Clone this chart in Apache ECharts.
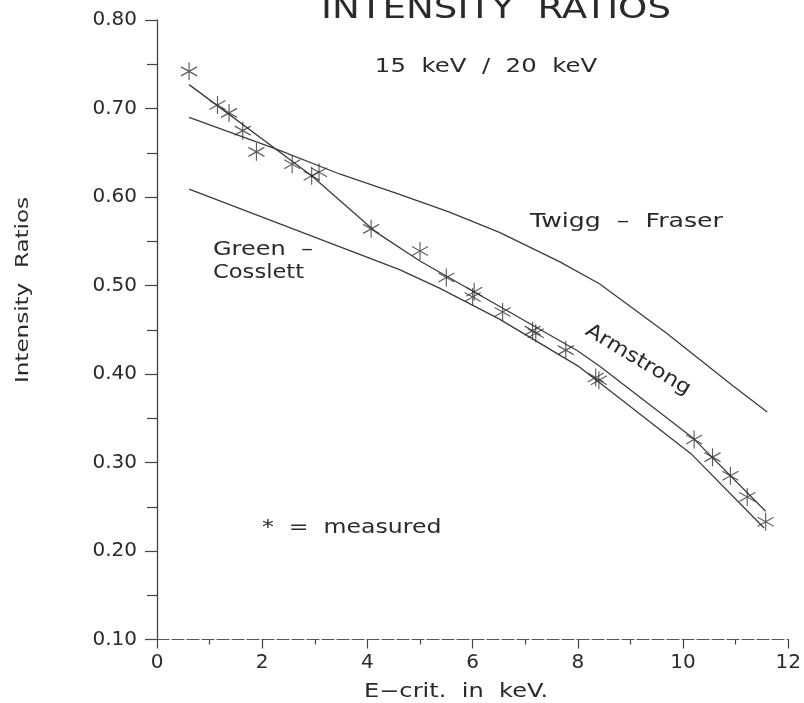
<!DOCTYPE html>
<html>
<head>
<meta charset="utf-8">
<script src="https://cdn.jsdelivr.net/npm/echarts@6/dist/echarts.min.js"></script>
<style>
html,body{margin:0;padding:0;background:#fff;}
#chart{width:804px;height:703px;}
</style>
</head>
<body>
<div id="chart"></div>
<script>
// Measured points (asterisks)
var measuredX = [0.61, 1.15, 1.37, 1.63, 1.89, 2.57, 2.94, 3.08, 4.07, 5.00, 5.50, 6.03, 6.00, 6.57, 7.14, 7.20, 7.77, 8.34, 8.40, 10.21, 10.56, 10.90, 11.22, 11.57];
var measuredY = [0.742, 0.704, 0.695, 0.675, 0.651, 0.637, 0.624, 0.628, 0.564, 0.539, 0.509, 0.493, 0.487, 0.470, 0.449, 0.446, 0.427, 0.396, 0.393, 0.326, 0.306, 0.285, 0.261, 0.233];

// Armstrong curve
var armstrongX = [0.61, 2.94, 4.17, 4.99, 8.00, 8.41, 10.20, 11.57];
var armstrongY = [0.727, 0.624, 0.560, 0.528, 0.426, 0.409, 0.327, 0.245];

// Twigg - Fraser curve
var twiggX = [0.61, 2.27, 3.47, 4.61, 5.56, 6.51, 7.65, 8.41, 9.67, 10.94, 11.60];
var twiggY = [0.690, 0.654, 0.626, 0.603, 0.583, 0.560, 0.527, 0.502, 0.447, 0.387, 0.357];

// Green - Cosslett curve
var greenX = [0.61, 4.61, 5.37, 6.51, 8.03, 10.15, 11.54];
var greenY = [0.609, 0.518, 0.497, 0.462, 0.408, 0.310, 0.226];

// Tick labels
var xTickLabels = ['0', '2', '4', '6', '8', '10', '12'];
var yTickLabels = ['0.10', '0.20', '0.30', '0.40', '0.50', '0.60', '0.70', '0.80'];

function pairs(xs, ys) { return xs.map(function (x, i) { return [x, ys[i]]; }); }

var FONT = '"DejaVu Sans", sans-serif';
var INK = '#2a2a2a';
var LINE = '#3c3c3c';

var chart = echarts.init(document.getElementById('chart'), null, {renderer: 'canvas'});
var lineStyle = {color: LINE, width: 1.3};

function label(text, x, y, size, sx, align, rot) {
  return {
    type: 'text', x: x, y: y, scaleX: sx, rotation: rot || 0,
    style: {text: text, font: size + 'px ' + FONT, fill: INK, textAlign: align, textVerticalAlign: 'middle'}
  };
}

var option = {
  backgroundColor: '#ffffff',
  animation: false,
  grid: {left: 157, right: 15, top: 20, bottom: 63.5, containLabel: false},
  xAxis: {
    type: 'value', min: 0, max: 12, interval: 2,
    axisLine: {show: true, onZero: false, lineStyle: {color: '#555', width: 1.2, type: [12, 3]}},
    axisTick: {show: true, inside: false, length: 9, lineStyle: {color: '#444', width: 1.2}},
    minorTick: {show: true, splitNumber: 2, length: 5, lineStyle: {color: '#444', width: 1.2}},
    splitLine: {show: false},
    axisLabel: {
      margin: 13, color: INK, fontSize: 20, fontFamily: FONT,
      formatter: function (v) { var i = Math.round(v / 2); return xTickLabels[i] !== undefined ? xTickLabels[i] : ''; }
    }
  },
  yAxis: {
    type: 'value', min: 0.1, max: 0.8, interval: 0.1,
    axisLine: {show: true, onZero: false, lineStyle: {color: '#444', width: 1.3}},
    axisTick: {show: true, inside: false, length: 12, lineStyle: {color: '#444', width: 1.2}},
    minorTick: {show: true, splitNumber: 2, length: 10, lineStyle: {color: '#444', width: 1.2}},
    splitLine: {show: false},
    axisLabel: {
      margin: 20, color: INK, fontSize: 20, fontFamily: FONT,
      formatter: function (v) { var i = Math.round(v * 10) - 1; return yTickLabels[i] !== undefined ? yTickLabels[i] : ''; }
    }
  },
  series: [
    {type: 'line', name: 'Armstrong', data: pairs(armstrongX, armstrongY), symbol: 'none', lineStyle: lineStyle, z: 2},
    {type: 'line', name: 'Twigg - Fraser', data: pairs(twiggX, twiggY), symbol: 'none', lineStyle: lineStyle, z: 2},
    {type: 'line', name: 'Green - Cosslett', data: pairs(greenX, greenY), symbol: 'none', lineStyle: lineStyle, z: 2},
    {
      type: 'scatter', name: 'measured', data: pairs(measuredX, measuredY),
      symbol: 'path://M5,0L5,12M0,3L10,9M0,9L10,3',
      symbolSize: [16, 18],
      itemStyle: {color: 'rgba(0,0,0,0)', borderColor: '#333', borderWidth: 1.2},
      z: 3
    }
  ],
  graphic: [
    label('INTENSITY  RATIOS', 496, 10, 31, 1.2, 'center'),
    label('15  keV  /  20  keV', 486, 67, 20, 1.22, 'center'),
    label('Intensity  Ratios', 23, 290, 18, 1.28, 'center', Math.PI / 2),
    label('E\u2212crit.  in  keV.', 456, 692, 19, 1.27, 'center'),
    label('Green  \u2013', 213, 250, 20, 1.2, 'left'),
    label('Cosslett', 213, 273, 20, 1.13, 'left'),
    label('Twigg  \u2013  Fraser', 530, 222, 20, 1.26, 'left'),
    label('Armstrong', 638, 360, 20, 1.14, 'center', -31 * Math.PI / 180),
    label('*  =  measured', 262, 528, 20, 1.18, 'left')
  ]
};
chart.setOption(option);
</script>
</body>
</html>
